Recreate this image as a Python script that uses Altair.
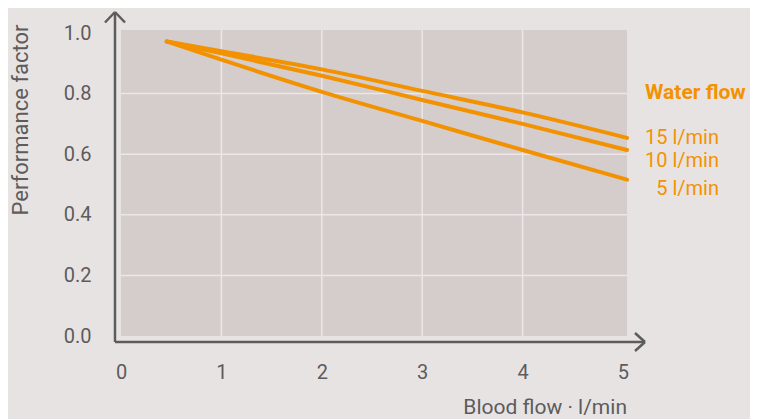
import altair as alt
import pandas as pd

# ---- data ----
blood_flow = [0.455, 1.0, 2.0, 3.0, 4.0, 5.04]
pf_15 = [0.972, 0.940, 0.880, 0.809, 0.738, 0.654]
pf_10 = [0.972, 0.933, 0.859, 0.779, 0.700, 0.614]
pf_5 = [0.972, 0.912, 0.806, 0.710, 0.614, 0.516]
series_names = ["15 l/min", "10 l/min", "5 l/min"]
x_ticks = [0, 1, 2, 3, 4, 5]
y_ticks = [0.0, 0.2, 0.4, 0.6, 0.8, 1.0]
x_grid = [1, 2, 3, 4]
y_grid = [0.2, 0.4, 0.6, 0.8]

ORANGE = "#f39200"
GREY = "#5c5c5c"
BG = "#e8e3e3"
PLOT_BG = "#d5cdcb"
GRID = "#ece7e6"
FONT = "Roboto"

W, H = 506, 306

rows = []
for name, vals in zip(series_names, [pf_15, pf_10, pf_5]):
    for x, y in zip(blood_flow, vals):
        rows.append({"series": name, "blood": x, "pf": y})
df = pd.DataFrame(rows)

xs = alt.Scale(domain=[0, 5.04], nice=False, zero=False)
ys = alt.Scale(domain=[0, 1.01], nice=False, zero=False)

x_axis = alt.Axis(values=x_ticks, format="d", title=None, domain=False, ticks=False,
                  grid=False, labelFontSize=20, labelColor=GREY, labelFont=FONT,
                  labelPadding=26, labelFlush=False)
y_axis = alt.Axis(values=y_ticks, format=".1f", title=None, domain=False, ticks=False,
                  grid=False, labelFontSize=20, labelColor=GREY, labelFont=FONT,
                  labelPadding=30, labelFlush=False)

xgrid = alt.Chart(pd.DataFrame({"g": x_grid})).mark_rule(color=GRID, strokeWidth=1.5).encode(
    x=alt.X("g:Q", scale=xs, axis=x_axis)
)
ygrid = alt.Chart(pd.DataFrame({"g": y_grid})).mark_rule(color=GRID, strokeWidth=1.5).encode(
    y=alt.Y("g:Q", scale=ys, axis=y_axis)
)

lines = alt.Chart(df).mark_line(color=ORANGE, strokeWidth=4, strokeCap="round",
                                interpolate="monotone").encode(
    x=alt.X("blood:Q", scale=xs, axis=x_axis),
    y=alt.Y("pf:Q", scale=ys, axis=y_axis),
    detail="series:N",
)

def seg(x1, y1, x2, y2):
    return alt.Chart(pd.DataFrame({"a": [0]})).mark_rule(color=GREY, strokeWidth=2.5).encode(
        x=alt.value(x1), y=alt.value(y1), x2=alt.value(x2), y2=alt.value(y2)
    )

axes_deco = [
    seg(-6, 312, -6, -18),
    seg(-6, 312, 524, 312),
    seg(-6, -18, -16, -7.5),
    seg(-6, -18, 4, -7.5),
    seg(524, 312, 514, 303),
    seg(524, 312, 514, 321),
]

def label(text, x, y, align="left", bold=False, color=ORANGE, size=20, angle=0, baseline="middle"):
    kw = dict(text=text, align=align, baseline=baseline, font=FONT, fontSize=size, color=color,
              fontWeight="bold" if bold else "normal")
    if angle:
        kw["angle"] = angle
    return alt.Chart(pd.DataFrame({"a": [0]})).mark_text(**kw).encode(
        x=alt.value(x), y=alt.value(y)
    )

texts = [
    label("Water flow", 524, 63, bold=True, size=21),
    label("15 l/min", 598, 108, align="right"),
    label("10 l/min", 598, 131, align="right"),
    label("5 l/min", 598, 159, align="right"),
    label("Blood flow · l/min", W, 384, align="right", color=GREY, size=21, baseline="alphabetic"),
    label("Performance factor", -93, 90, color=GREY, size=22, angle=270, align="center",
          baseline="alphabetic"),
]

chart = alt.layer(xgrid, ygrid, lines, *axes_deco, *texts).properties(
    width=W, height=H,
    autosize=alt.AutoSizeParams(type="none"),
    padding={"left": 113, "top": 22, "right": 123, "bottom": 83},
    background=BG,
).configure_view(fill=PLOT_BG, strokeWidth=0)

chart.save("out.html", embed_options={"renderer": "svg", "actions": False})
